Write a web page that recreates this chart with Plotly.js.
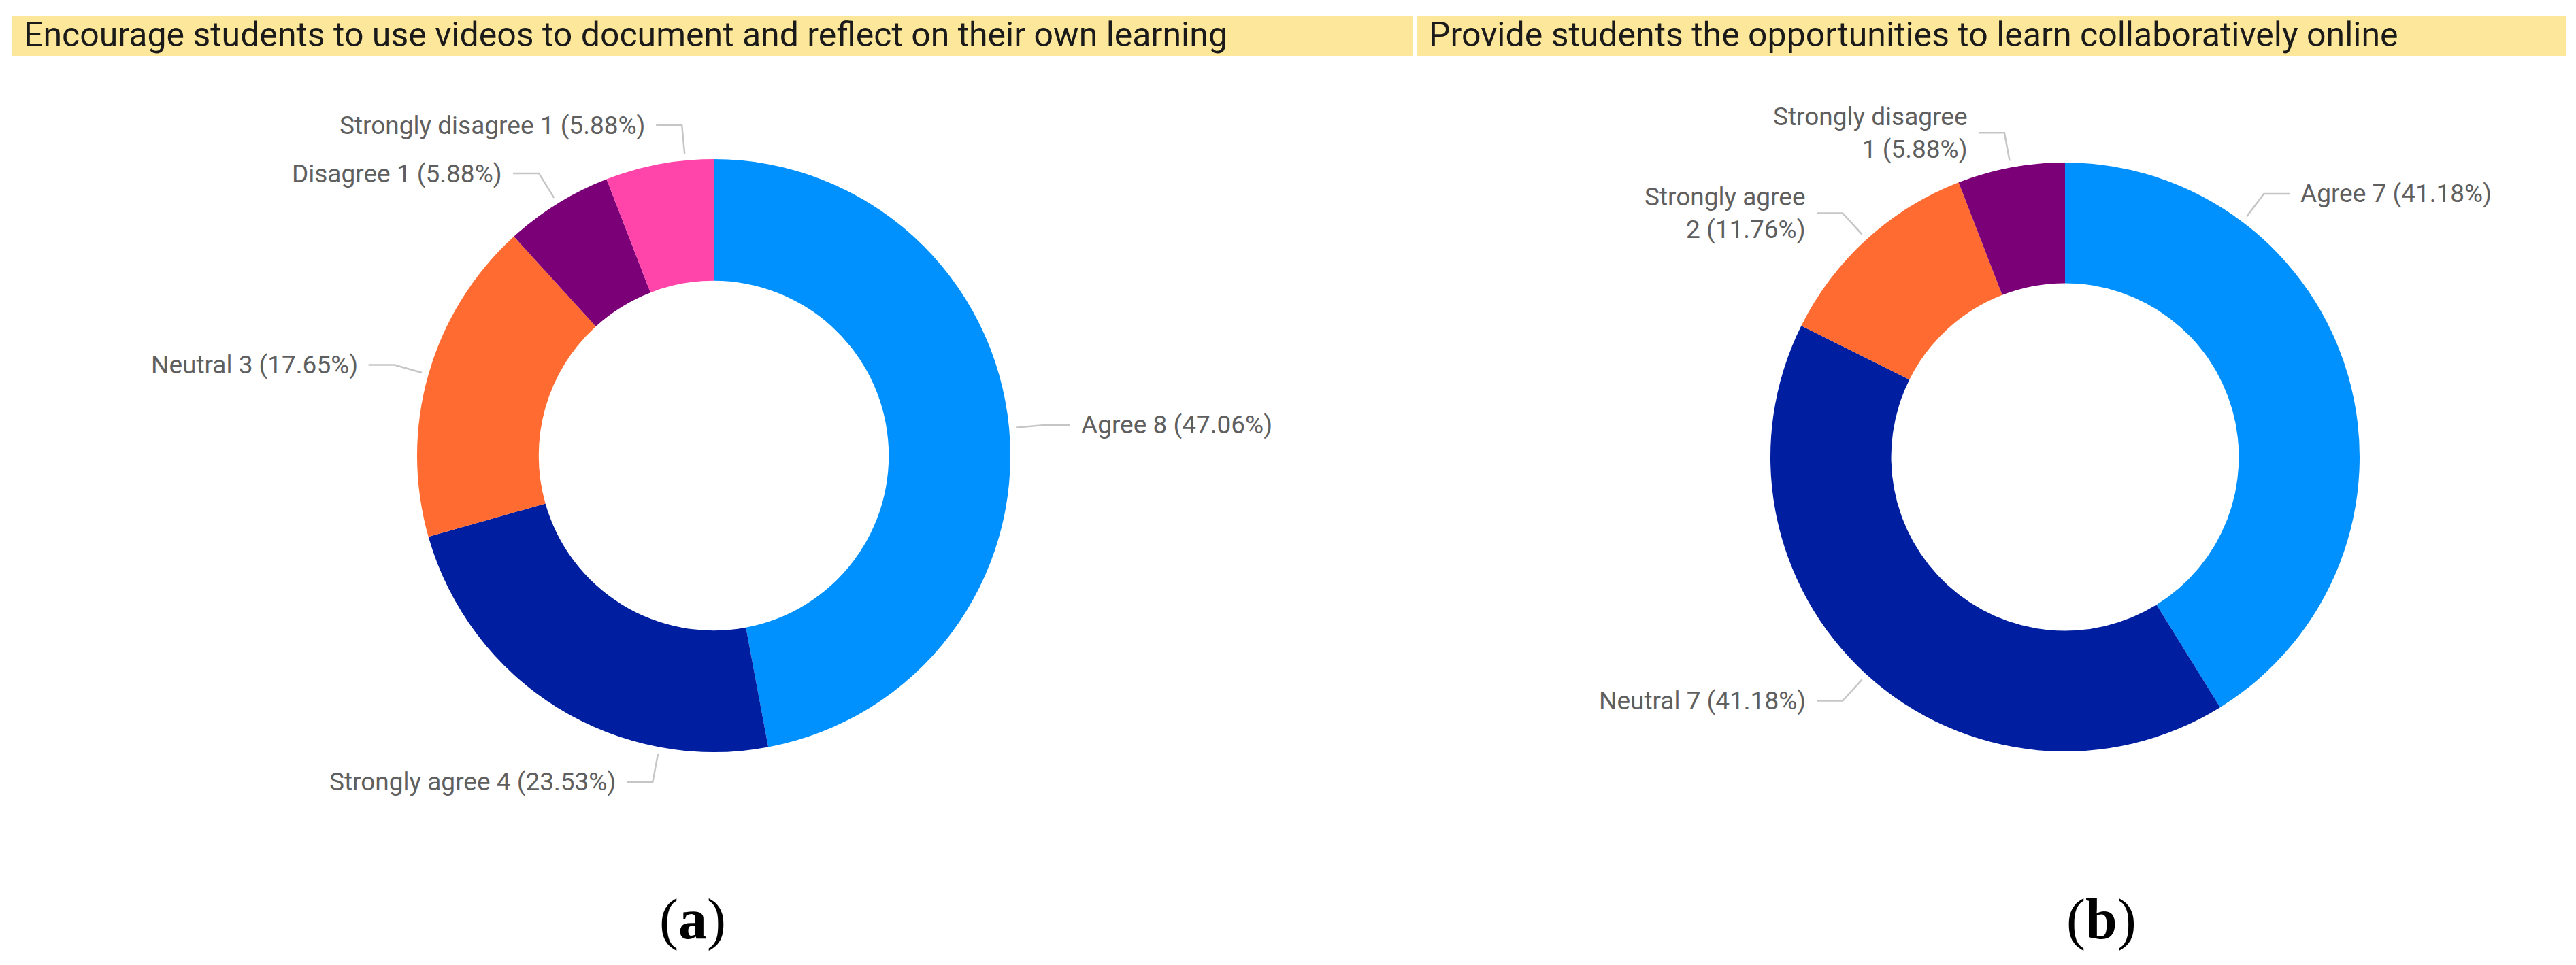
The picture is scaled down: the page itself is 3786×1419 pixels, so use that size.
<!DOCTYPE html>
<html>
<head>
<meta charset="utf-8">
<script src="https://cdn.plot.ly/plotly-3.0.1.min.js"></script>
<style>
  html, body { margin: 0; padding: 0; background: #fff; }
  #chart { width: 3786px; height: 1419px; }
</style>
</head>
<body>
<div id="chart"></div>
<script>
// chart (a)
var titleA = 'Encourage students to use videos to document and reflect on their own learning';
var catsA = ['Agree', 'Strongly agree', 'Neutral', 'Disagree', 'Strongly disagree'];
var countsA = [8, 4, 3, 1, 1];

// chart (b)
var titleB = 'Provide students the opportunities to learn collaboratively online';
var catsB = ['Agree', 'Neutral', 'Strongly agree', 'Strongly disagree'];
var countsB = [7, 7, 2, 1];

var panelTags = ['a', 'b'];

var W = 3786, H = 1419;
var palette = ['#0091FF', '#001EA0', '#FF6B30', '#7B0078', '#FF45AA'];

// where along each slice the leader line leaves the ring (0 = start, 1 = end)
var anchorA = [0.5, 0.25, 0.5, 0.5, 0.74];
var anchorB = [0.25, 0.5, 0.5, 0.5];

function px(x) { return x / W; }
function py(y) { return 1 - y / H; }

var data = [];
var shapes = [];
var annotations = [];

function addDonut(cats, counts, o) {
    data.push({
        type: 'pie',
        labels: cats,
        values: counts,
        hole: 0.59,
        sort: false,
        direction: 'clockwise',
        rotation: 0,
        textinfo: 'none',
        hoverinfo: 'label+value+percent',
        marker: {colors: palette.slice(0, cats.length), line: {width: 0}},
        domain: {
            x: [px(o.cx - o.r), px(o.cx + o.r)],
            y: [py(o.cy + o.r), py(o.cy - o.r)]
        }
    });

    var total = counts.reduce(function (a, b) { return a + b; }, 0);
    var cum = 0;
    for (var i = 0; i < counts.length; i++) {
        var a0 = 360 * cum / total;
        cum += counts[i];
        var a1 = 360 * cum / total;
        var ang = (a0 + o.anchors[i] * (a1 - a0)) * Math.PI / 180;
        var s = Math.sin(ang), c = Math.cos(ang);
        var sx = o.cx + (o.r + 10) * s, sy = o.cy - (o.r + 10) * c;
        var ex = o.cx + (o.r + 52) * s, ey = o.cy - (o.r + 52) * c;
        var side = s >= 0 ? 1 : -1;
        var hx = ex + side * 38;

        shapes.push({
            type: 'path', xref: 'paper', yref: 'paper',
            path: 'M' + px(sx) + ',' + py(sy) + ' L' + px(ex) + ',' + py(ey) + ' L' + px(hx) + ',' + py(ey),
            line: {color: '#C6C6C6', width: 2.5}
        });

        var pct = (100 * counts[i] / total).toFixed(2);
        var sep = (o.wrap && cats[i].indexOf(' ') > 0) ? '<br>' : ' ';
        annotations.push({
            xref: 'paper', yref: 'paper',
            x: px(hx + side * 14), y: py(ey),
            xanchor: side > 0 ? 'left' : 'right', yanchor: 'middle',
            align: side > 0 ? 'left' : 'right',
            showarrow: false,
            text: cats[i] + sep + counts[i] + ' (' + pct + '%)',
            font: {family: 'Roboto, sans-serif', size: 37, color: '#5F5F5F'}
        });
    }
}

addDonut(catsA, countsA, {cx: 1049, cy: 670, r: 436, anchors: anchorA, wrap: false});
addDonut(catsB, countsB, {cx: 3035, cy: 672, r: 433, anchors: anchorB, wrap: true});

// title bands
[[17, 2077, titleA], [2082, 3772, titleB]].forEach(function (t) {
    shapes.push({
        type: 'rect', xref: 'paper', yref: 'paper',
        x0: px(t[0]), x1: px(t[1]), y0: py(82), y1: py(23),
        fillcolor: '#FDE79A', line: {width: 0}, layer: 'below'
    });
    annotations.push({
        xref: 'paper', yref: 'paper',
        x: px(t[0] + 16), y: py(51),
        xanchor: 'left', yanchor: 'middle', showarrow: false,
        text: t[2],
        font: {family: 'Roboto, sans-serif', size: 50, color: '#1A1A1A'}
    });
});

// sub-figure tags
[[1018, panelTags[0]], [3088, panelTags[1]]].forEach(function (t) {
    annotations.push({
        xref: 'paper', yref: 'paper',
        x: px(t[0]), y: py(1352),
        xanchor: 'center', yanchor: 'middle', showarrow: false,
        text: '(<b>' + t[1] + '</b>)',
        font: {family: 'Liberation Serif, Times New Roman, serif', size: 84, color: '#000'}
    });
});

var layout = {
    width: W,
    height: H,
    margin: {l: 0, r: 0, t: 0, b: 0},
    paper_bgcolor: '#FFFFFF',
    showlegend: false,
    shapes: shapes,
    annotations: annotations
};

Plotly.newPlot('chart', data, layout, {displayModeBar: false, staticPlot: true});
</script>
</body>
</html>
